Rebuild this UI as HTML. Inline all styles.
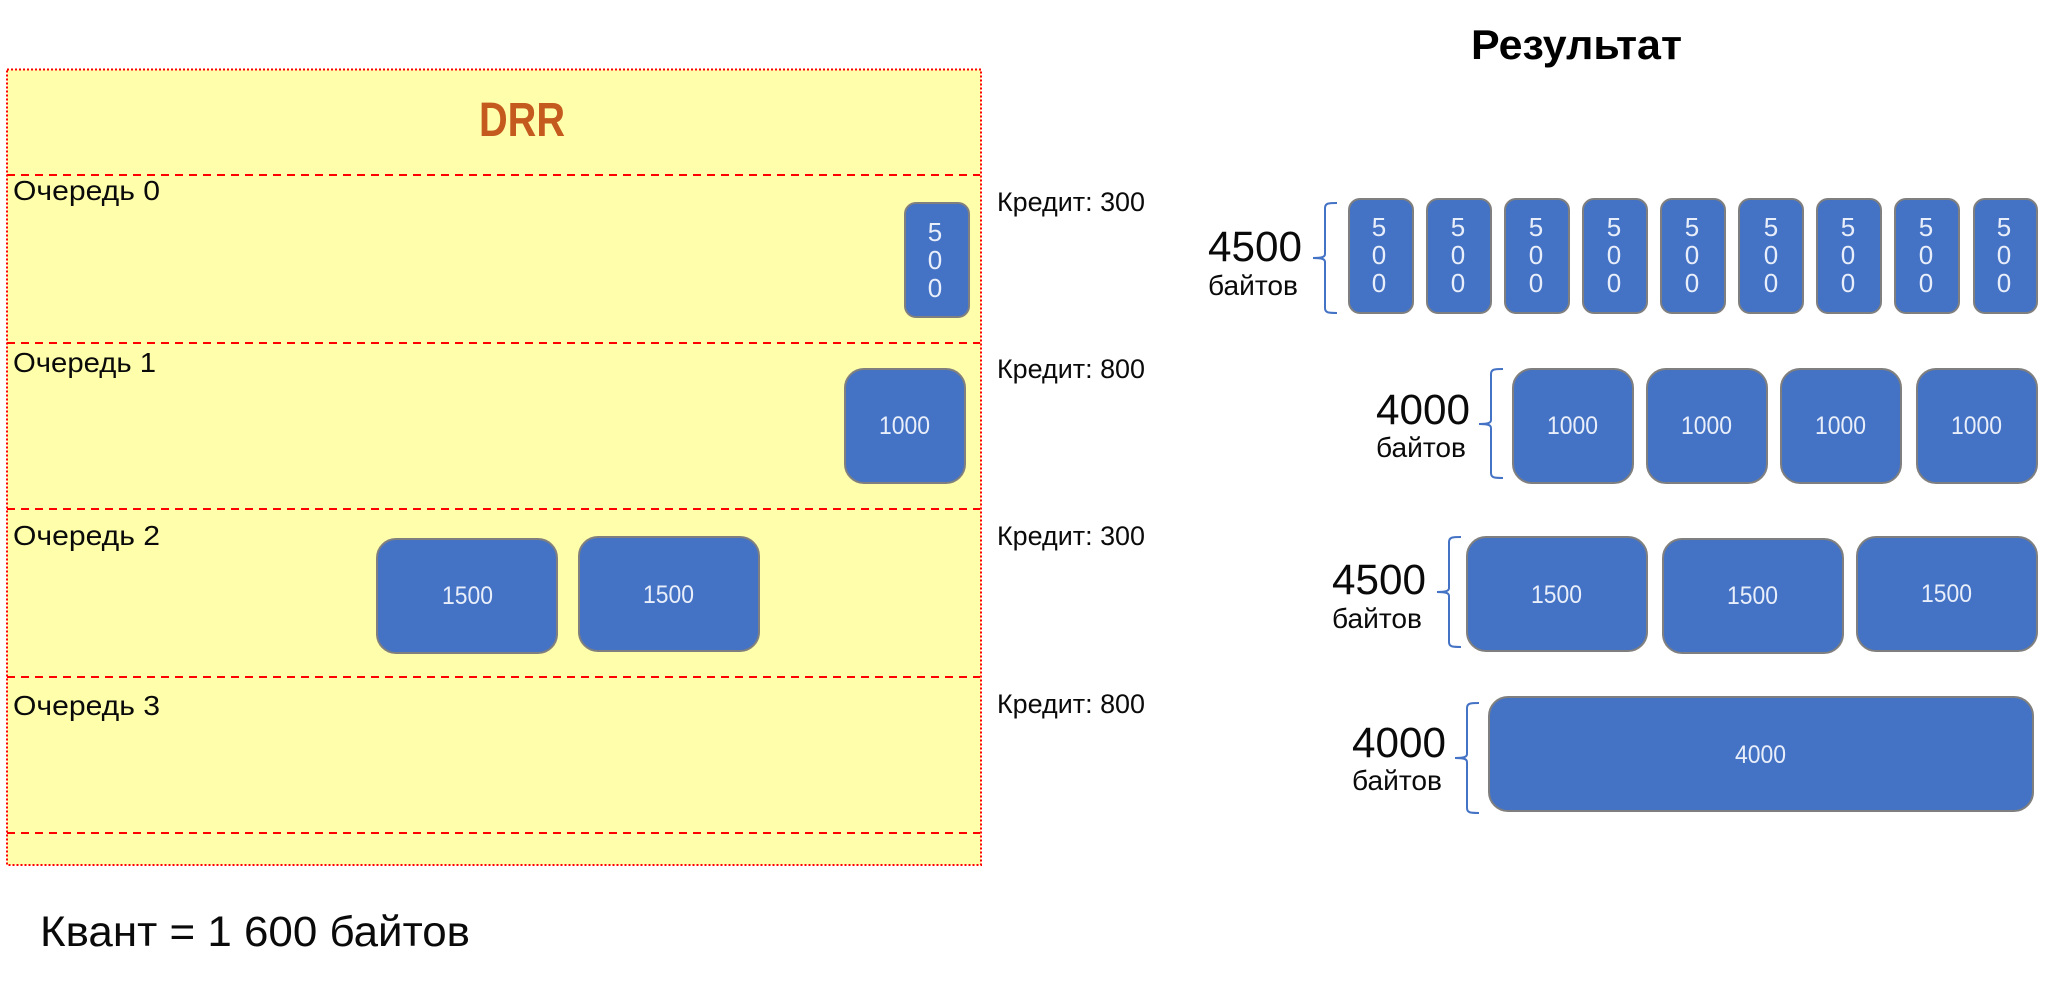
<!DOCTYPE html>
<html lang="ru">
<head>
<meta charset="utf-8">
<title>DRR</title>
<style>
html,body{margin:0;padding:0;background:#fff;width:2054px;height:1002px;overflow:hidden}
svg{display:block}
text{font-family:"Liberation Sans","DejaVu Sans",sans-serif;fill:#0a0a0a}
.q{font-size:28px}
.c{font-size:27px}
.big{font-size:43px}
.sm{font-size:28px}
.w{font-size:25px;fill:#e8eefa}
.d{font-size:26px;fill:#e8eefa;text-anchor:middle}
rect.p{fill:#4472c4;stroke:#7f7f7f;stroke-width:2}
path.b{fill:none;stroke:#4472c4;stroke-width:2}
line.r{stroke:#ff0000;stroke-width:2;stroke-dasharray:8 6}
</style>
</head>
<body>
<svg width="2054" height="1002" viewBox="0 0 2054 1002" xmlns="http://www.w3.org/2000/svg">
<rect x="7" y="69.500" width="974" height="795.500" fill="#ffffab" stroke="#ff0000" stroke-width="2" stroke-dasharray="2 2"/>
<line class="r" x1="7" y1="175" x2="980" y2="175"/>
<line class="r" x1="7" y1="343" x2="980" y2="343"/>
<line class="r" x1="7" y1="509" x2="980" y2="509"/>
<line class="r" x1="7" y1="677" x2="980" y2="677"/>
<line class="r" x1="7" y1="833" x2="980" y2="833"/>

<text x="479" y="136" font-size="48" font-weight="700" style="fill:#c55a1e" textLength="86" lengthAdjust="spacingAndGlyphs">DRR</text>
<text x="1471" y="59" font-size="42" font-weight="700" style="fill:#000" textLength="211" lengthAdjust="spacingAndGlyphs">Результат</text>

<text class="q" x="13" y="200" textLength="147" lengthAdjust="spacingAndGlyphs">Очередь 0</text>
<text class="q" x="13" y="372" textLength="143" lengthAdjust="spacingAndGlyphs">Очередь 1</text>
<text class="q" x="13" y="545" textLength="147" lengthAdjust="spacingAndGlyphs">Очередь 2</text>
<text class="q" x="13" y="715" textLength="147" lengthAdjust="spacingAndGlyphs">Очередь 3</text>

<text class="c" x="997" y="211" textLength="148" lengthAdjust="spacingAndGlyphs">Кредит: 300</text>
<text class="c" x="997" y="378" textLength="148" lengthAdjust="spacingAndGlyphs">Кредит: 800</text>
<text class="c" x="997" y="545" textLength="148" lengthAdjust="spacingAndGlyphs">Кредит: 300</text>
<text class="c" x="997" y="713" textLength="148" lengthAdjust="spacingAndGlyphs">Кредит: 800</text>

<text class="big" x="40" y="946" textLength="430" lengthAdjust="spacingAndGlyphs">Квант = 1 600 байтов</text>

<!-- left packets -->
<rect class="p" x="905" y="203" width="64" height="114" rx="11"/>
<text class="d" x="935" y="241">5</text><text class="d" x="935" y="269">0</text><text class="d" x="935" y="297">0</text>
<rect class="p" x="845" y="369" width="120" height="114" rx="19"/>
<text class="w" x="879" y="434" textLength="51" lengthAdjust="spacingAndGlyphs">1000</text>
<rect class="p" x="377" y="539" width="180" height="114" rx="19"/>
<text class="w" x="442" y="604" textLength="51" lengthAdjust="spacingAndGlyphs">1500</text>
<rect class="p" x="579" y="537" width="180" height="114" rx="19"/>
<text class="w" x="643" y="603" textLength="51" lengthAdjust="spacingAndGlyphs">1500</text>

<!-- right row 1 -->
<path class="b" d="M1337 203 C1329 203 1325 203 1325 208 L1325 254 C1325 257 1322 258 1313 258 C1322 258 1325 259 1325 262 L1325 308 C1325 313 1329 313 1337 313"/>
<text class="big" x="1208" y="261" textLength="94" lengthAdjust="spacingAndGlyphs">4500</text>
<text class="sm" x="1208" y="295" textLength="90" lengthAdjust="spacingAndGlyphs">байтов</text>

<rect class="p" x="1349" y="199" width="64" height="114" rx="11"/>
<text class="d" x="1379" y="236">5</text><text class="d" x="1379" y="264">0</text><text class="d" x="1379" y="292">0</text>
<rect class="p" x="1427" y="199" width="64" height="114" rx="11"/>
<text class="d" x="1458" y="236">5</text><text class="d" x="1458" y="264">0</text><text class="d" x="1458" y="292">0</text>
<rect class="p" x="1505" y="199" width="64" height="114" rx="11"/>
<text class="d" x="1536" y="236">5</text><text class="d" x="1536" y="264">0</text><text class="d" x="1536" y="292">0</text>
<rect class="p" x="1583" y="199" width="64" height="114" rx="11"/>
<text class="d" x="1614" y="236">5</text><text class="d" x="1614" y="264">0</text><text class="d" x="1614" y="292">0</text>
<rect class="p" x="1661" y="199" width="64" height="114" rx="11"/>
<text class="d" x="1692" y="236">5</text><text class="d" x="1692" y="264">0</text><text class="d" x="1692" y="292">0</text>
<rect class="p" x="1739" y="199" width="64" height="114" rx="11"/>
<text class="d" x="1771" y="236">5</text><text class="d" x="1771" y="264">0</text><text class="d" x="1771" y="292">0</text>
<rect class="p" x="1817" y="199" width="64" height="114" rx="11"/>
<text class="d" x="1848" y="236">5</text><text class="d" x="1848" y="264">0</text><text class="d" x="1848" y="292">0</text>
<rect class="p" x="1895" y="199" width="64" height="114" rx="11"/>
<text class="d" x="1926" y="236">5</text><text class="d" x="1926" y="264">0</text><text class="d" x="1926" y="292">0</text>
<rect class="p" x="1974" y="199" width="63" height="114" rx="11"/>
<text class="d" x="2004" y="236">5</text><text class="d" x="2004" y="264">0</text><text class="d" x="2004" y="292">0</text>

<!-- right row 2 -->
<path class="b" d="M1503 369 C1495 369 1491 369 1491 374 L1491 420 C1491 423 1488 424 1479 424 C1488 424 1491 425 1491 428 L1491 473 C1491 478 1495 478 1503 478"/>
<text class="big" x="1376" y="424" textLength="94" lengthAdjust="spacingAndGlyphs">4000</text>
<text class="sm" x="1376" y="457" textLength="90" lengthAdjust="spacingAndGlyphs">байтов</text>
<rect class="p" x="1513" y="369" width="120" height="114" rx="19"/>
<text class="w" x="1547" y="434" textLength="51" lengthAdjust="spacingAndGlyphs">1000</text>
<rect class="p" x="1647" y="369" width="120" height="114" rx="19"/>
<text class="w" x="1681" y="434" textLength="51" lengthAdjust="spacingAndGlyphs">1000</text>
<rect class="p" x="1781" y="369" width="120" height="114" rx="19"/>
<text class="w" x="1815" y="434" textLength="51" lengthAdjust="spacingAndGlyphs">1000</text>
<rect class="p" x="1917" y="369" width="120" height="114" rx="19"/>
<text class="w" x="1951" y="434" textLength="51" lengthAdjust="spacingAndGlyphs">1000</text>

<!-- right row 3 -->
<path class="b" d="M1461 537 C1453 537 1449 537 1449 542 L1449 588 C1449 591 1446 592 1437 592 C1446 592 1449 593 1449 596 L1449 642 C1449 647 1453 647 1461 647"/>
<text class="big" x="1332" y="594" textLength="94" lengthAdjust="spacingAndGlyphs">4500</text>
<text class="sm" x="1332" y="628" textLength="90" lengthAdjust="spacingAndGlyphs">байтов</text>
<rect class="p" x="1467" y="537" width="180" height="114" rx="19"/>
<text class="w" x="1531" y="603" textLength="51" lengthAdjust="spacingAndGlyphs">1500</text>
<rect class="p" x="1663" y="539" width="180" height="114" rx="19"/>
<text class="w" x="1727" y="604" textLength="51" lengthAdjust="spacingAndGlyphs">1500</text>
<rect class="p" x="1857" y="537" width="180" height="114" rx="19"/>
<text class="w" x="1921" y="602" textLength="51" lengthAdjust="spacingAndGlyphs">1500</text>

<!-- right row 4 -->
<path class="b" d="M1479 703 C1471 703 1467 703 1467 708 L1467 754 C1467 757 1464 758 1455 758 C1464 758 1467 759 1467 762 L1467 808 C1467 813 1471 813 1479 813"/>
<text class="big" x="1352" y="757" textLength="94" lengthAdjust="spacingAndGlyphs">4000</text>
<text class="sm" x="1352" y="790" textLength="90" lengthAdjust="spacingAndGlyphs">байтов</text>
<rect class="p" x="1489" y="697" width="544" height="114" rx="19"/>
<text class="w" x="1735" y="763" textLength="51" lengthAdjust="spacingAndGlyphs">4000</text>
</svg>
</body>
</html>
